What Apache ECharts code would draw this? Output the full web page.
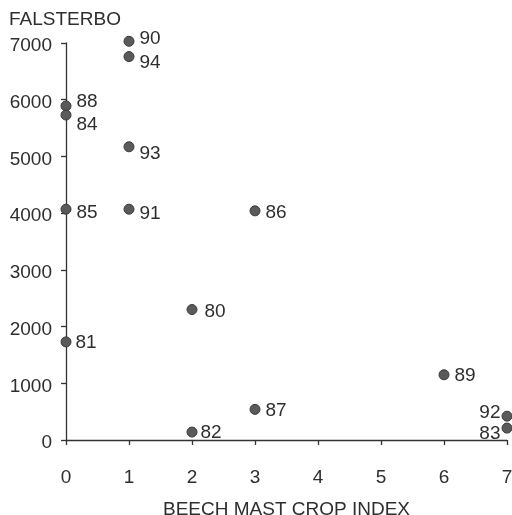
<!DOCTYPE html>
<html>
<head>
<meta charset="utf-8">
<script src="https://cdn.jsdelivr.net/npm/echarts@6/dist/echarts.min.js"></script>
<style>
  html, body { margin: 0; padding: 0; background: #fff; }
  #chart { width: 512px; height: 515px; }
</style>
</head>
<body>
<div id="chart"></div>
<script>
// Autumn migration totals at Falsterbo against the beech mast crop index, by year
const years      = ['90', '94', '88', '84', '93', '85', '91', '86', '80', '81', '82', '87', '89', '92', '83'];
const mastIndex  = [1, 1, 0, 0, 1, 0, 1, 3, 2, 0, 2, 3, 6, 7, 7];
const falsterbo  = [7030, 6760, 5890, 5730, 5170, 4070, 4070, 4040, 2300, 1730, 140, 540, 1150, 420, 210];
const xTicks     = [0, 1, 2, 3, 4, 5, 6, 7];
const yTicks     = [0, 1000, 2000, 3000, 4000, 5000, 6000, 7000];

// Year-label placement around each dot: [side, dx, dy]
const labelPlace = {
  '90': ['right', 0, -3], '94': ['right', 0, 6], '88': ['right', 0, -4],
  '84': ['right', 0, 10], '93': ['right', 0, 7], '85': ['right', 0, 4],
  '91': ['right', 0, 5],  '86': ['right', 0, 2], '80': ['right', 2, 2],
  '81': ['right', -1, 1], '82': ['right', -2, 1], '87': ['right', 0, 1],
  '89': ['right', 0, 1],  '92': ['left', 4, -3], '83': ['left', 4, 6]
};

const textColor = '#2e2e2e';
const fontFam = '"Liberation Sans", Arial, sans-serif';

const points = years.map((y, i) => {
  const p = labelPlace[y];
  return {
    value: [mastIndex[i], falsterbo[i]],
    label: { position: p[0], offset: [p[1], p[2]], distance: 5 }
  };
});

const chart = echarts.init(document.getElementById('chart'), null, { renderer: 'canvas' });
chart.setOption({
  animation: false,
  backgroundColor: '#fff',
  title: {
    text: 'FALSTERBO',
    left: 4, top: 5,
    textStyle: { color: textColor, fontSize: 19, fontWeight: 'normal', fontFamily: fontFam }
  },
  grid: { left: 66, right: 5, top: 43, bottom: 75, containLabel: false, outerBoundsMode: 'none' },
  xAxis: {
    type: 'value',
    min: xTicks[0], max: xTicks[xTicks.length - 1], interval: 1,
    name: 'BEECH MAST CROP INDEX',
    nameLocation: 'middle', nameGap: 60,
    nameTextStyle: { color: textColor, fontSize: 19, fontFamily: fontFam },
    axisLine: { onZero: false, lineStyle: { color: '#333', width: 1.3 } },
    axisTick: { show: true, inside: false, length: 5, lineStyle: { color: '#333', width: 1.3 } },
    axisLabel: { color: textColor, fontSize: 19, fontFamily: fontFam, margin: 28 },
    splitLine: { show: false }
  },
  yAxis: {
    type: 'value',
    min: yTicks[0], max: yTicks[yTicks.length - 1], interval: 1000,
    axisLine: { show: true, onZero: false, lineStyle: { color: '#333', width: 1.3 } },
    axisTick: { show: true, inside: false, length: 5, lineStyle: { color: '#333', width: 1.3 } },
    axisLabel: {
      margin: 14,
      formatter: (v) => '{t|' + v + '}',
      rich: {
        t: { color: textColor, fontSize: 19, fontFamily: fontFam, padding: [6, 0, 0, 0] }
      }
    },
    splitLine: { show: false }
  },
  series: [{
    type: 'scatter',
    clip: false,
    symbol: 'circle',
    symbolSize: 10,
    itemStyle: { color: '#5a5a5a', borderColor: '#3a3a3a', borderWidth: 1, opacity: 1 },
    label: {
      show: true,
      formatter: (p) => years[p.dataIndex],
      color: textColor, fontSize: 19, fontFamily: fontFam
    },
    data: points
  }]
});
</script>
</body>
</html>
